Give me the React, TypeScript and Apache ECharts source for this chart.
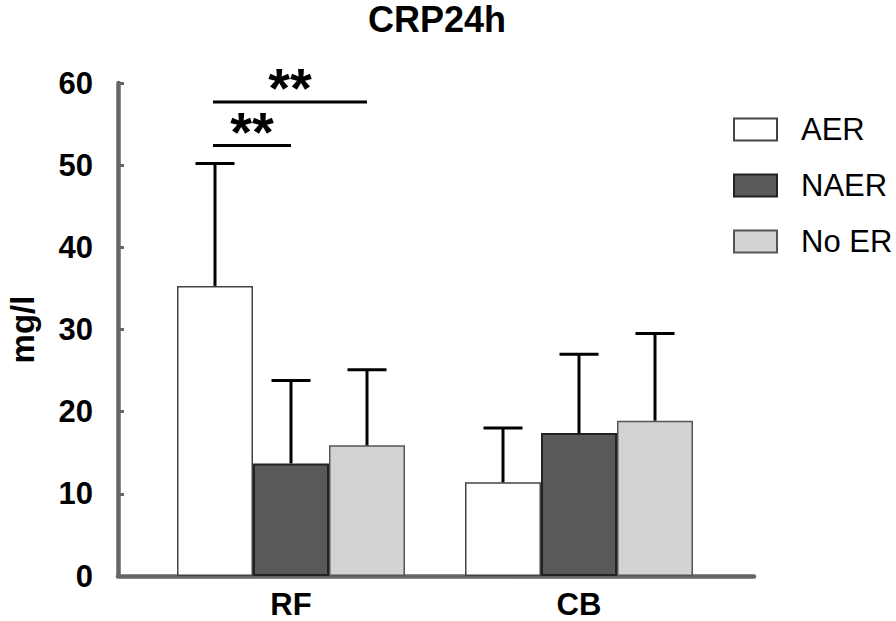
import React, { useEffect, useRef } from "react";
import * as echarts from "echarts";

const categories = ["RF", "CB"];
const seriesNames = ["AER", "NAER", "No ER"];
const aerMean = [35.3, 11.4];
const aerSD = [14.9, 6.6];
const naerMean = [13.7, 17.4];
const naerSD = [10.1, 9.6];
const noErMean = [15.9, 18.9];
const noErSD = [9.2, 10.6];
// significance brackets: [category index, from series, to series, y level]
const sigBrackets = [
  [0, 0, 1, 52.4],
  [0, 0, 2, 57.7],
];
const sigLabels = ["**", "**"];
const yTicks = { min: 0, max: 60, interval: 10 };

const FONT = "'Liberation Sans', Arial, Helvetica, sans-serif";
const BAR_W = 76;
const CAP_W = 39;
const AXIS_GRAY = "#666666";

export default function App() {
  const ref = useRef<HTMLDivElement>(null);

  useEffect(() => {
    document.body.style.margin = "0";
    const chart = echarts.init(ref.current!, null, { renderer: "svg" });

    const means = [aerMean, naerMean, noErMean];
    const sds = [aerSD, naerSD, noErSD];
    const errData: number[][] = [];
    means.forEach((m, s) => {
      m.forEach((v, c) => errData.push([c, s, v, sds[s][c]]));
    });

    const styles = [
      { color: "#ffffff", borderColor: "#444444", borderWidth: 1.5 },
      { color: "#595959", borderColor: "#222222", borderWidth: 2 },
      { color: "#d3d3d3", borderColor: "#555555", borderWidth: 1.5 },
    ];

    const barSeries = seriesNames.map((name, s) => ({
      type: "bar",
      name,
      data: means[s],
      barWidth: BAR_W,
      barGap: "0%",
      xAxisIndex: 0,
      yAxisIndex: 0,
      itemStyle: styles[s],
      emphasis: { disabled: true },
    }));

    chart.setOption({
      animation: false,
      title: {
        text: "CRP24h",
        left: 437,
        textAlign: "center",
        top: 1,
        padding: 0,
        textStyle: { fontFamily: FONT, fontSize: 36, fontWeight: "bold", color: "#000" },
      },
      legend: {
        data: seriesNames,
        orient: "vertical",
        left: 733,
        top: 114,
        padding: 0,
        itemWidth: 43,
        itemHeight: 22,
        itemGap: 25,
        icon: "rect",
        selectedMode: false,
        textStyle: {
          fontFamily: FONT,
          fontSize: 31,
          lineHeight: 30,
          color: "#000",
          padding: [0, 0, 0, 19],
        },
      },
      grid: [
        { left: 147, right: 173, top: 83, bottom: 45, outerBoundsMode: "none", containLabel: false },
        { left: 118, right: 142, top: 83, bottom: 45, outerBoundsMode: "none", containLabel: false },
      ],
      xAxis: [
        {
          type: "category",
          gridIndex: 0,
          data: categories,
          axisLine: { show: false },
          axisTick: { show: false },
          axisLabel: {
            fontFamily: FONT,
            fontSize: 31,
            lineHeight: 28,
            fontWeight: "bold",
            color: "#000",
            margin: 14,
          },
        },
        {
          type: "category",
          gridIndex: 1,
          data: categories,
          axisLine: { show: true, lineStyle: { color: AXIS_GRAY, width: 4.5 } },
          axisTick: { show: false },
          axisLabel: { show: false },
        },
      ],
      yAxis: [
        {
          type: "value",
          gridIndex: 0,
          min: yTicks.min,
          max: yTicks.max,
          interval: yTicks.interval,
          offset: 29,
          name: "mg/l",
          nameLocation: "middle",
          nameRotate: 90,
          nameGap: 81,
          nameTextStyle: {
            fontFamily: FONT,
            fontSize: 33,
            lineHeight: 30,
            fontWeight: "bold",
            color: "#000",
          },
          axisLine: { show: true, lineStyle: { color: AXIS_GRAY, width: 4.5 } },
          axisTick: { show: true, inside: true, length: 6, lineStyle: { color: AXIS_GRAY, width: 3 } },
          splitLine: { show: false },
          axisLabel: {
            fontFamily: FONT,
            fontSize: 31,
            fontWeight: "bold",
            color: "#000",
            margin: 25,
          },
        },
        { type: "value", gridIndex: 1, show: false, min: 0, max: 60 },
      ],
      series: [
        ...barSeries,
        {
          type: "custom",
          name: "errors",
          xAxisIndex: 0,
          yAxisIndex: 0,
          data: errData,
          z: 5,
          renderItem: (params: any, api: any) => {
            const c = api.value(0);
            const s = api.value(1);
            const m = api.value(2);
            const sd = api.value(3);
            const base = api.coord([c, m]);
            const top = api.coord([c, m + sd]);
            const x = base[0] + (s - 1) * BAR_W;
            const st = { stroke: "#000", lineWidth: 3 };
            return {
              type: "group",
              children: [
                { type: "line", shape: { x1: x, y1: base[1], x2: x, y2: top[1] }, style: st },
                {
                  type: "line",
                  shape: { x1: x - CAP_W / 2, y1: top[1], x2: x + CAP_W / 2, y2: top[1] },
                  style: st,
                },
              ],
            };
          },
        },
        {
          type: "custom",
          name: "significance",
          xAxisIndex: 0,
          yAxisIndex: 0,
          data: sigBrackets,
          z: 5,
          renderItem: (params: any, api: any) => {
            const c = api.value(0);
            const f = api.value(1);
            const t = api.value(2);
            const y = api.value(3);
            const p = api.coord([c, y]);
            const x1 = p[0] + (f - 1) * BAR_W - 2;
            const x2 = p[0] + (t - 1) * BAR_W;
            return {
              type: "group",
              children: [
                {
                  type: "line",
                  shape: { x1, y1: p[1], x2, y2: p[1] },
                  style: { stroke: "#000", lineWidth: 3 },
                },
                {
                  type: "text",
                  x: (x1 + x2) / 2,
                  y: p[1] - 14,
                  style: {
                    text: sigLabels[params.dataIndex],
                    fontFamily: FONT,
                    fontSize: 56,
                    fontWeight: "bold",
                    fill: "#000",
                    align: "center",
                    verticalAlign: "middle",
                  },
                },
              ],
            };
          },
        },
      ],
    });

    return () => chart.dispose();
  }, []);

  return (
    <div
      ref={ref}
      style={{ position: "fixed", left: 0, top: 0, width: 896, height: 621, background: "#fff" }}
    />
  );
}
